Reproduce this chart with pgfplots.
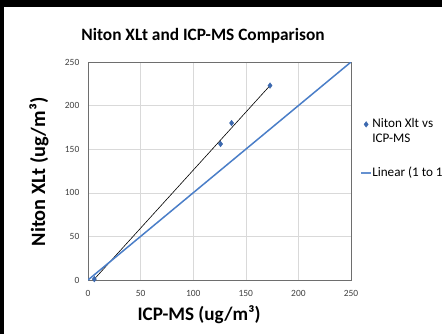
\documentclass[border=0pt]{standalone}
\usepackage{fontspec}
\setmainfont{Carlito}
\usepackage{pgfplots}
\pgfplotsset{compat=1.18}
\definecolor{lineblue}{RGB}{74,126,200}
\definecolor{markblue}{RGB}{60,105,175}
\definecolor{gridgray}{RGB}{217,217,217}
\definecolor{axisgray}{RGB}{110,110,110}
\definecolor{ticktext}{RGB}{64,64,64}
\begin{document}
\begin{tikzpicture}[x=1bp,y=1bp]
\fill[white] (0,0) rectangle (442,334);
\fill[black] (0,327) rectangle (442,334);
\fill[black] (0,0) rectangle (4,334);
\begin{axis}[
  at={(88bp,54bp)}, anchor=south west, scale only axis,
  width=263bp, height=218bp,
  xmin=0, xmax=250, ymin=0, ymax=250,
  xtick={0,50,...,250}, ytick={0,50,...,250},
  grid=major, major grid style={gridgray, line width=0.6bp},
  axis line style={axisgray, line width=0.8bp},
  tick style={draw=none},
  ticklabel style={font=\fontsize{9.5}{11}\selectfont, text=ticktext, inner sep=0pt},
  /pgf/number format/assume math mode=true,
  xticklabel style={anchor=base, yshift=-16bp},
  yticklabel style={anchor=east, xshift=-8.5bp},
  legend image code/.code={\draw[mark repeat=2,mark phase=2,#1] plot coordinates {(0bp,0bp)(5bp,0bp)(10bp,0bp)};},
  legend cell align=left,
  legend style={draw=none, fill=none, at={(1.0361,0.744)}, anchor=north west,
    inner sep=0pt, outer sep=0pt, font=\fontsize{13.2}{15.5}\selectfont,
    nodes={inner sep=0.5bp},
    cells={anchor=west, align=left}, row sep=22bp},
]
\addplot[only marks, mark=diamond*, mark size=2.8bp, markblue,
  legend image post style={yshift=7bp}]
  coordinates {(173,223) (136.5,180) (126,156) (6,1)};
\addlegendentry{Niton Xlt vs\\ICP-MS}
\addplot[black, line width=0.6bp, forget plot] coordinates {(6,1) (173,223)};
\addplot[lineblue, line width=1.5bp, legend image post style={draw=lineblue!85, line width=1.3bp}] coordinates {(0,0) (250,250)};
\addlegendentry{Linear (1 to 1)}
\end{axis}
\node[anchor=base, font=\bfseries\fontsize{17.4}{20}\selectfont] at (203,294) {Niton XLt and ICP-MS Comparison};
\node[anchor=base, font=\bfseries\fontsize{19.2}{22}\selectfont] at (199,14) {ICP-MS (ug/m³)};
\node[anchor=base, rotate=90, font=\bfseries\fontsize{20.4}{23}\selectfont] at (45,162) {Niton XLt (ug/m³)};
\pgfresetboundingbox
\useasboundingbox (0,0) rectangle (442,334);
\end{tikzpicture}
\end{document}
